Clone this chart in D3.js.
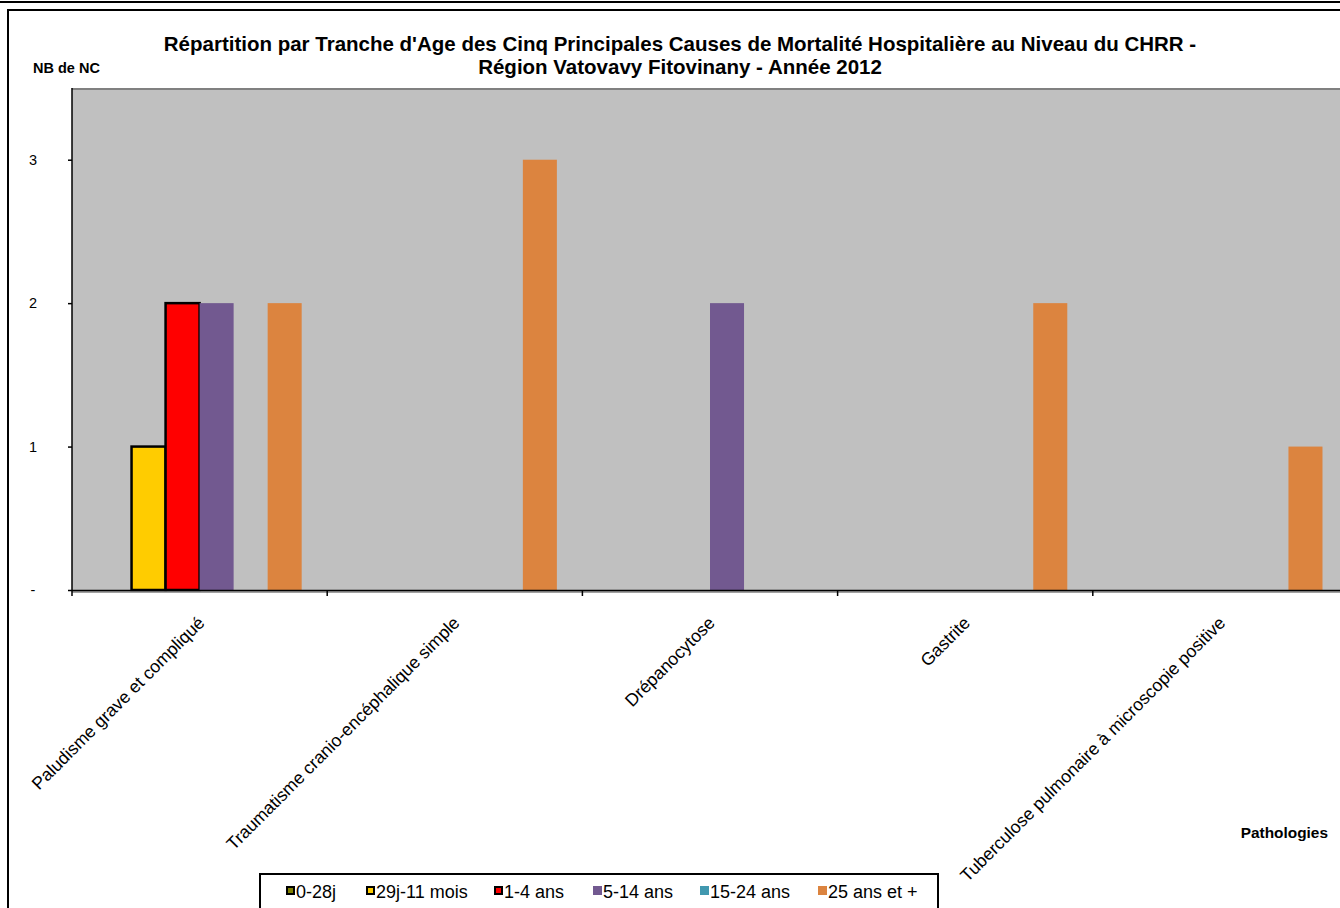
<!DOCTYPE html>
<html><head><meta charset="utf-8">
<script src="https://cdn.jsdelivr.net/npm/d3@7"></script>
<style>html,body{margin:0;padding:0;background:#fff;overflow:hidden}svg{display:block;font-family:Arial,"Liberation Sans",sans-serif}</style>
</head><body>
<svg id="c" width="1340" height="908"></svg>
<script>
const categories = ["Paludisme grave et compliqué","Traumatisme cranio-encéphalique simple","Drépanocytose","Gastrite","Tuberculose pulmonaire à microscopie positive"];
const seriesNames = ["0-28j","29j-11 mois","1-4 ans","5-14 ans","15-24 ans","25 ans et +"];
const v0_28j = [0,0,0,0,0];
const v29j_11mois = [1,0,0,0,0];
const v1_4ans = [2,0,0,0,0];
const v5_14ans = [2,0,2,0,0];
const v15_24ans = [0,0,0,0,0];
const v25plus = [2,3,0,2,1];
const seriesValues = [v0_28j, v29j_11mois, v1_4ans, v5_14ans, v15_24ans, v25plus];
const seriesColors = ["#808000","#FFCC00","#FF0000","#725990","#4198AF","#DC843F"];
const seriesBorder = [true,true,true,false,false,false];
const yTicks = [0,1,2,3];
const titleLines = ["Répartition par Tranche d'Age des Cinq Principales Causes de Mortalité Hospitalière au Niveau du CHRR -","Région Vatovavy Fitovinany - Année 2012"];

const svg = d3.select("#c");
// frames
svg.append("line").attr("x1",0).attr("x2",1340).attr("y1",2).attr("y2",2).attr("stroke","#000").attr("stroke-width",2);
svg.append("line").attr("x1",7).attr("x2",1340).attr("y1",10).attr("y2",10).attr("stroke","#000").attr("stroke-width",2);
svg.append("line").attr("x1",8).attr("x2",8).attr("y1",9).attr("y2",908).attr("stroke","#000").attr("stroke-width",2);

const x0 = d3.scaleBand().domain(categories).range([72,1348]).paddingInner(0).paddingOuter(0);
const bw = x0.bandwidth();
const x1 = d3.scaleBand().domain(seriesNames).range([bw*0.1, bw*0.9]);
const y = d3.scaleLinear().domain([0,3.5]).range([590,88]);

// plot area
svg.append("rect").attr("x",72).attr("y",88).attr("width",1340-72).attr("height",590-88).attr("fill","#C0C0C0");
svg.append("line").attr("x1",72).attr("x2",1340).attr("y1",89).attr("y2",89).attr("stroke","#808080").attr("stroke-width",2);

// bars
const g = svg.append("g");
seriesNames.forEach((s,si)=>{
  categories.forEach((c,ci)=>{
    const val = seriesValues[si][ci];
    if(val<=0) return;
    const r = g.append("rect")
      .attr("x", x0(c)+x1(s)).attr("y", y(val))
      .attr("width", x1.bandwidth()).attr("height", y(0)-y(val))
      .attr("fill", seriesColors[si]);
    if(seriesBorder[si]) r.attr("stroke","#000").attr("stroke-width",2.5);
  });
});

// y axis
const yAxis = d3.axisLeft(y).tickValues(yTicks).tickSize(4).tickPadding(35)
  .tickFormat(d=> d===0 ? "-" : d3.format("d")(d));
const ya = svg.append("g").attr("transform","translate(72,0)").call(yAxis);
ya.select(".domain").attr("d","M0,88V590").attr("stroke","#000").attr("stroke-width",1.5);
ya.selectAll(".tick line").attr("stroke","#000").attr("stroke-width",1.5);
ya.selectAll(".tick text").attr("font-size",14.5).attr("fill","#000").attr("text-anchor","middle").attr("font-family","Arial, 'Liberation Sans', sans-serif");

// x axis
svg.append("line").attr("x1",72).attr("x2",1340).attr("y1",592).attr("y2",592).attr("stroke","#808080").attr("stroke-width",1.5);
svg.append("line").attr("x1",72).attr("x2",1340).attr("y1",590.5).attr("y2",590.5).attr("stroke","#000").attr("stroke-width",1.5);
const ticksX = categories.map(c=>x0(c));
svg.selectAll(".xt").data(ticksX).enter().append("line")
  .attr("x1",d=>d).attr("x2",d=>d).attr("y1",590).attr("y2",596).attr("stroke","#000").attr("stroke-width",1.5);
svg.selectAll(".xl").data(categories).enter().append("text")
  .attr("transform",d=>`translate(${x0(d)+bw/2+6},${624}) rotate(-45)`)
  .attr("text-anchor","end").attr("font-size",17.6).attr("fill","#000").text(d=>d);

// titles
svg.selectAll(".tt").data(titleLines).enter().append("text")
  .attr("x",680).attr("y",(d,i)=>51+i*23).attr("text-anchor","middle")
  .attr("font-size",20.5).attr("font-weight","bold").attr("fill","#000").text(d=>d);
svg.append("text").attr("x",33).attr("y",73).attr("font-size",14.5).attr("font-weight","bold").text("NB de NC");
svg.append("text").attr("x",1328).attr("y",838).attr("text-anchor","end").attr("font-size",15.4).attr("font-weight","bold").text("Pathologies");

// legend
svg.append("rect").attr("x",260).attr("y",874).attr("width",678).attr("height",40).attr("fill","#fff").attr("stroke","#000").attr("stroke-width",2);
const legX = [286,366,494,593,700,818];
const lg = svg.selectAll(".lg").data(seriesNames).enter().append("g").attr("transform",(d,i)=>`translate(${legX[i]},0)`);
lg.append("rect").attr("x",(d,i)=>seriesBorder[i]?1:0).attr("y",(d,i)=>seriesBorder[i]?887:886)
  .attr("width",(d,i)=>seriesBorder[i]?7:9).attr("height",(d,i)=>seriesBorder[i]?7:9)
  .attr("fill",(d,i)=>seriesColors[i]).attr("stroke",(d,i)=>seriesBorder[i]?"#000":"none").attr("stroke-width",2);
lg.append("text").attr("x",10).attr("y",898).attr("font-size",18).attr("fill","#000").text(d=>d);
</script>
</body></html>
